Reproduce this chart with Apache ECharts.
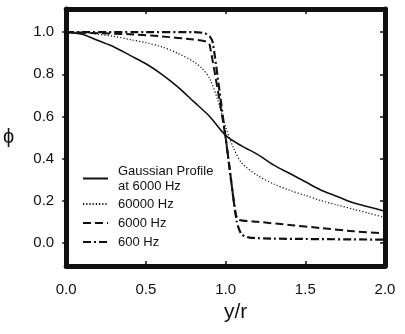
<!DOCTYPE html>
<html lang="en">
<head>
  <meta charset="UTF-8">
  <title>phi vs y/r</title>
  <style>
    html, body { margin: 0; padding: 0; background: #fff; }
    #main { width: 405px; height: 334px; }
  </style>
</head>
<body>
  <div id="main"></div>
  <script src="https://cdn.jsdelivr.net/npm/echarts@6/dist/echarts.min.js"></script>
  <script>
    // ticks
    var xTicks = [0, 0.5, 1.0, 1.5, 2.0];
    var yTicks = [0, 0.2, 0.4, 0.6, 0.8, 1.0];

    // Gaussian Profile at 6000 Hz (solid)
    var gaussX = [0, 0.1, 0.2, 0.3, 0.4, 0.5, 0.6, 0.7, 0.8, 0.9, 1.0, 1.1, 1.2, 1.3, 1.4, 1.5, 1.6, 1.7, 1.8, 1.9, 2.0];
    var gaussY = [1.0, 0.99, 0.96, 0.93, 0.89, 0.85, 0.80, 0.74, 0.67, 0.60, 0.51, 0.46, 0.42, 0.37, 0.33, 0.29, 0.25, 0.22, 0.19, 0.17, 0.15];

    // 60000 Hz (dotted)
    var hz60000X = [0, 0.1, 0.2, 0.3, 0.4, 0.5, 0.6, 0.7, 0.8, 0.85, 0.9, 0.95, 1.0, 1.05, 1.1, 1.2, 1.3, 1.4, 1.5, 1.6, 1.7, 1.8, 1.9, 2.0];
    var hz60000Y = [1.0, 1.0, 0.99, 0.98, 0.965, 0.95, 0.93, 0.90, 0.86, 0.83, 0.78, 0.68, 0.55, 0.45, 0.38, 0.32, 0.28, 0.25, 0.225, 0.20, 0.18, 0.16, 0.14, 0.12];

    // 6000 Hz (dashed)
    var hz6000X = [0, 0.2, 0.4, 0.6, 0.8, 0.88, 0.9, 1.0, 1.06, 1.08, 1.2, 1.4, 1.6, 1.8, 2.0];
    var hz6000Y = [1.0, 0.995, 0.99, 0.98, 0.965, 0.955, 0.94, 0.5, 0.15, 0.11, 0.10, 0.085, 0.07, 0.055, 0.045];

    // 600 Hz (dash-dot)
    var hz600X = [0, 0.5, 0.8, 0.87, 0.9, 0.92, 1.0, 1.07, 1.1, 1.15, 1.3, 2.0];
    var hz600Y = [1.0, 1.0, 1.0, 0.995, 0.98, 0.95, 0.5, 0.1, 0.04, 0.025, 0.02, 0.015];

    function pairs(xs, ys) {
      return xs.map(function (x, i) { return [x, ys[i]]; });
    }

    var ink = '#111';
    var font = 'Liberation Sans, Arial, sans-serif';

    var myChart = echarts.init(document.getElementById('main'));

    function frameAxis(extra) {
      var base = {
        type: 'value',
        axisLine: { show: true, onZero: false, lineStyle: { color: ink, width: 5 } },
        splitLine: { show: false },
        axisLabel: { show: false },
        axisTick: { show: true, inside: true, length: 5, lineStyle: { color: ink, width: 1.5 } }
      };
      for (var k in extra) base[k] = extra[k];
      return base;
    }

    var legendText = { fontFamily: font, fontSize: 13, color: ink };

    var option = {
      animation: false,
      backgroundColor: '#fff',
      grid: { left: 65, right: 20, top: 9, bottom: 68 },
      xAxis: [
        frameAxis({
          position: 'bottom', min: 0, max: 2, interval: 0.5,
          name: 'y/r', nameLocation: 'middle', nameGap: 35,
          nameTextStyle: { fontFamily: font, fontSize: 21, color: ink, padding: [0, 0, 0, 20] },
          axisLabel: {
            show: true, margin: 16, fontFamily: font, fontSize: 15, color: ink,
            formatter: function (v) { return v.toFixed(1); }
          }
        }),
        frameAxis({ position: 'top', min: 0, max: 2, interval: 0.5 })
      ],
      yAxis: [
        frameAxis({
          position: 'left', min: -0.11, max: 1.11,
          name: '\u03d5', nameLocation: 'middle', nameRotate: 0, nameGap: 52,
          nameTextStyle: { fontFamily: font, fontSize: 20, color: ink },
          axisTick: { show: true, inside: false, length: 4, customValues: yTicks, lineStyle: { color: ink, width: 1.5 } },
          axisLabel: {
            show: true, margin: 12, fontFamily: font, fontSize: 15, color: ink,
            customValues: yTicks,
            formatter: function (v) { return v.toFixed(1); }
          }
        }),
        frameAxis({
          position: 'right', min: -0.11, max: 1.11,
          axisTick: { show: true, inside: true, length: 5, customValues: yTicks, lineStyle: { color: ink, width: 1.5 } }
        })
      ],
      legend: [
        {
          data: ['Gaussian Profile'],
          orient: 'vertical', left: 77, top: 151,
          itemWidth: 25, itemHeight: 14,
          itemStyle: { color: 'rgba(0,0,0,0)', borderWidth: 0 },
          formatter: function () { return 'Gaussian Profile\nat 6000 Hz'; },
          textStyle: Object.assign({ lineHeight: 15, padding: [15, 0, 0, 5] }, legendText)
        },
        {
          data: ['60000 Hz', '6000 Hz', '600 Hz'],
          orient: 'vertical', left: 77, top: 192,
          itemWidth: 25, itemHeight: 14, itemGap: 5,
          itemStyle: { color: 'rgba(0,0,0,0)', borderWidth: 0 },
          textStyle: Object.assign({ lineHeight: 14, padding: [0, 0, 0, 5] }, legendText)
        }
      ],
      series: [
        {
          name: 'Gaussian Profile', type: 'line', smooth: 0.3, symbol: 'none',
          data: pairs(gaussX, gaussY),
          lineStyle: { color: ink, width: 1.6, type: 'solid' },
          itemStyle: { color: ink }
        },
        {
          name: '60000 Hz', type: 'line', smooth: 0.3, symbol: 'none',
          data: pairs(hz60000X, hz60000Y),
          lineStyle: { color: ink, width: 1.2, type: [1.2, 2] },
          itemStyle: { color: ink }
        },
        {
          name: '6000 Hz', type: 'line', smooth: 0.2, symbol: 'none',
          data: pairs(hz6000X, hz6000Y),
          lineStyle: { color: ink, width: 2, type: [8, 4] },
          itemStyle: { color: ink }
        },
        {
          name: '600 Hz', type: 'line', smooth: 0.2, symbol: 'none',
          data: pairs(hz600X, hz600Y),
          lineStyle: { color: ink, width: 2.2, type: [8, 3, 2, 3] },
          itemStyle: { color: ink }
        }
      ]
    };

    myChart.setOption(option);
  </script>
</body>
</html>
